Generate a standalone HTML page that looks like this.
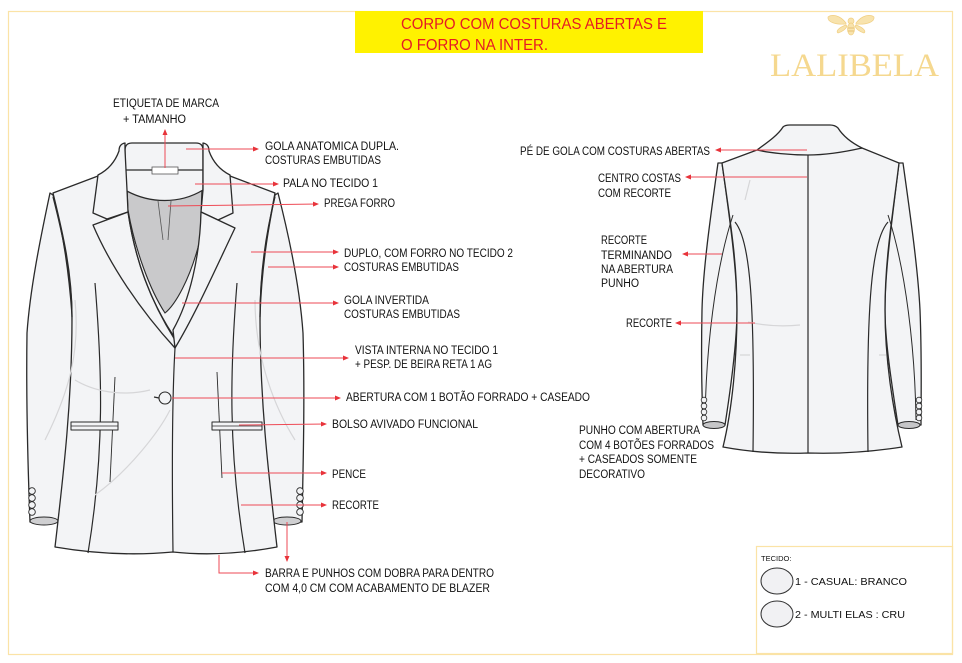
<!DOCTYPE html>
<html><head><meta charset="utf-8"><style>
html,body{margin:0;padding:0;background:#fff;}
svg{display:block;}
text{font-family:"Liberation Sans Narrow","Liberation Sans",sans-serif;font-size:11.5px;fill:#111;}
.r{stroke:#ee4a55;stroke-width:1;fill:none;}
.o{fill:#f3f4f6;stroke:#2a2a2a;stroke-width:1.3;stroke-linejoin:round;}
.l{fill:none;stroke:#2a2a2a;stroke-width:1.2;}
.f{fill:none;stroke:#d6d6d8;stroke-width:1.2;}
</style></head><body>
<svg width="962" height="663" viewBox="0 0 962 663" xmlns="http://www.w3.org/2000/svg">
<defs><marker id="a" markerWidth="6" markerHeight="6" refX="5" refY="3" orient="auto" markerUnits="userSpaceOnUse"><path d="M0,0.5 L6,3 L0,5.5z" fill="#e8333a"/></marker></defs>
<rect x="8.5" y="11.5" width="944" height="643" fill="none" stroke="#fbe3a6" stroke-width="1.2"/>
<rect x="355" y="11" width="348" height="42" fill="#fff200"/>
<text x="401" y="29" style="font-size:16px;fill:#e51b24" textLength="266" lengthAdjust="spacingAndGlyphs">CORPO COM COSTURAS ABERTAS E</text>
<text x="401" y="50" style="font-size:16px;fill:#e51b24" textLength="147" lengthAdjust="spacingAndGlyphs">O FORRO NA INTER.</text>
<g fill="#f8e3ad" stroke="#f0cf83" stroke-width="0.7">
<path d="M846,23 C840,15 832,14 828,17 C827,22 836,25 846,24 Z"/>
<path d="M856,23 C862,15 870,14 874,17 C875,22 866,25 856,24 Z"/>
<path d="M846,25 C840,27 835,31 838,33 C842,32 846,29 847,26 Z"/>
<path d="M856,25 C862,27 867,31 864,33 C860,32 856,29 855,26 Z"/>
<ellipse cx="851" cy="21" rx="3" ry="3"/>
<ellipse cx="851" cy="29" rx="3.5" ry="6"/>
<path d="M848,28 L854,28 M848,31 L854,31" stroke="#e0b860"/>
</g>
<text x="770" y="76" style="font-family:'Liberation Serif',serif;font-size:33px;fill:#f5d88f" textLength="169" lengthAdjust="spacingAndGlyphs">LALIBELA</text>
<rect x="756.5" y="546.5" width="196" height="107" fill="none" stroke="#fbe3a6" stroke-width="1.2"/>
<text x="761" y="561" style="font-family:'Liberation Sans',sans-serif;font-size:7.5px">TECIDO:</text>
<ellipse cx="777" cy="581" rx="16" ry="13" fill="#f1f1f3" stroke="#333" stroke-width="1"/>
<ellipse cx="777" cy="614" rx="16" ry="13" fill="#f1f1f3" stroke="#333" stroke-width="1"/>
<text x="795" y="585" style="font-family:'Liberation Sans',sans-serif;font-size:10.5px" textLength="112" lengthAdjust="spacingAndGlyphs">1 - CASUAL: BRANCO</text>
<text x="795" y="618" style="font-family:'Liberation Sans',sans-serif;font-size:10.5px" textLength="110" lengthAdjust="spacingAndGlyphs">2 - MULTI ELAS : CRU</text>

<path class="o" d="M50,193 C40,240 30,290 27,333 C26,400 28,470 30,522 L58,522 C66,460 74,380 72,315 C68,260 60,220 53,195 Z"/>
<path class="o" d="M278,193 C290,240 300,290 303,333 C305,400 303,470 302,522 L273,522 C265,460 258,380 260,315 C262,260 270,220 275,195 Z"/>
<ellipse cx="44" cy="521" rx="14" ry="4" fill="#cfcfd1" stroke="#2a2a2a" stroke-width="1"/>
<ellipse cx="287" cy="521" rx="14" ry="4" fill="#cfcfd1" stroke="#2a2a2a" stroke-width="1"/>
<path class="o" d="M98,176 L53,193 C62,230 72,270 72,317 C72,400 64,470 55,547 C90,553 130,556 173,552 C210,556 245,553 277,547 C268,470 260,400 260,317 C260,270 268,230 275,193 L230,176 Z"/>
<path d="M127,188 C150,204 180,204 202,188 L200,240 C190,280 175,305 165,313 C150,290 135,250 128,210 Z" fill="#c9c9cb" stroke="#2a2a2a" stroke-width="1.1"/>
<path class="l" d="M158,201 L163,240 M171,201 L168,240" style="stroke:#555;stroke-width:0.8"/>
<path class="o" d="M125,190 L125,150 Q125,143 132,143 L196,143 Q203,143 203,150 L203,190 C180,204 150,204 125,190 Z"/>
<line class="l" x1="125" y1="170" x2="203" y2="170"/>
<rect x="152" y="167" width="26" height="7" fill="#fff" stroke="#555" stroke-width="0.8"/>
<path class="o" d="M125,143 Q119,144 119,151 C115,162 108,170 98,175 L93,213 L107,219 L128,212 L127,190 L125,150 Z"/>
<path class="o" d="M203,143 Q209,144 209,151 C213,162 220,170 230,175 L233,213 L218,220 L201,212 L203,190 L203,150 Z"/>
<path class="o" d="M128,212 L93,225 C110,265 140,310 175,348 L175,340 C150,300 135,260 128,212 Z"/>
<path class="o" d="M201,212 L235,228 C215,270 195,315 175,348 L173,330 C190,300 200,255 201,212 Z"/>
<path class="l" d="M128,212 C135,260 150,300 173,335"/>
<path class="l" d="M175,348 C172,400 172,480 173,552"/>
<path class="l" d="M95,283 C102,370 105,450 88,553"/>
<path class="l" d="M237,283 C230,370 228,450 245,553"/>
<path class="l" d="M115,377 L110,482" style="stroke-width:0.9"/>
<path class="l" d="M217,372 L222,478" style="stroke-width:0.9"/>
<path class="l" d="M53,197 C64,240 72,280 72,317"/>
<path class="l" d="M275,197 C264,240 260,280 260,317"/>
<path class="f" d="M75,300 C80,350 70,390 45,440 M255,300 C255,350 270,400 295,440 M75,380 C100,395 130,395 150,390 M95,495 C130,470 160,430 170,410"/>
<rect x="71" y="422" width="47" height="8" class="o" style="stroke-width:1"/><line x1="71" y1="426" x2="118" y2="426" class="l" style="stroke-width:0.8"/>
<rect x="212" y="422" width="50" height="8" class="o" style="stroke-width:1"/><line x1="212" y1="426" x2="262" y2="426" class="l" style="stroke-width:0.8"/>
<circle cx="165" cy="398" r="6" class="o" style="stroke-width:1.1"/><path d="M159,398 L154,397" class="l"/>
<g class="o" style="stroke-width:0.9"><circle cx="32" cy="491" r="3.3"/><circle cx="32" cy="498" r="3.3"/><circle cx="32" cy="505" r="3.3"/><circle cx="32" cy="512" r="3.3"/>
<circle cx="300" cy="491" r="3.3"/><circle cx="300" cy="498" r="3.3"/><circle cx="300" cy="505" r="3.3"/><circle cx="300" cy="512" r="3.3"/></g>

<path class="o" d="M718,163 C710,220 703,270 702,310 C701,360 702,400 703,425 L725,425 C732,380 737,340 737,310 C737,270 730,220 722,163 Z"/>
<path class="o" d="M903,163 C911,220 918,270 920,310 C922,360 921,400 921,425 L898,425 C891,380 885,340 885,310 C885,270 892,220 899,163 Z"/>
<ellipse cx="714" cy="425" rx="11" ry="3.5" fill="#c6c6c8" stroke="#2a2a2a" stroke-width="1"/>
<ellipse cx="909" cy="425" rx="11" ry="3.5" fill="#c6c6c8" stroke="#2a2a2a" stroke-width="1"/>
<path class="o" d="M757,150 L722,163 C730,220 737,260 737,310 C737,360 732,410 723,447 C750,452 780,454 808,453 C840,454 870,452 902,447 C893,410 885,360 885,310 C885,260 892,220 899,163 L862,148 Z"/>
<path class="o" d="M757,150 C768,142 778,135 783,127 Q785,125 790,125 L830,125 Q835,125 838,128 C843,136 852,143 862,148 C840,153 820,155 808,155 C790,155 770,153 757,150 Z"/>
<path class="l" d="M808,155 L808,453"/>
<path class="l" d="M735,222 C750,240 755,300 753,452"/>
<path class="l" d="M888,222 C872,240 866,300 868,452"/>
<path class="l" d="M733,215 C715,270 706,350 705,420" style="stroke-width:1"/>
<path class="l" d="M888,215 C906,270 915,350 916,420" style="stroke-width:1"/>
<path class="f" d="M748,322 C770,327 790,326 800,325 M740,355 L750,355 M879,355 L886,355 M750,180 L745,200"/>
<g class="o" style="stroke-width:0.8"><circle cx="704" cy="400" r="2.8"/><circle cx="704" cy="406" r="2.8"/><circle cx="704" cy="412" r="2.8"/><circle cx="704" cy="418" r="2.8"/>
<circle cx="919" cy="400" r="2.8"/><circle cx="919" cy="406" r="2.8"/><circle cx="919" cy="412" r="2.8"/><circle cx="919" cy="418" r="2.8"/></g>

<g class="r" marker-end="url(#a)">
<line x1="165" y1="168" x2="165" y2="130"/>
<line x1="186" y1="149" x2="258" y2="149"/>
<line x1="195" y1="184" x2="278" y2="184"/>
<line x1="168" y1="206" x2="318" y2="204"/>
<line x1="251" y1="252" x2="338" y2="252"/>
<line x1="268" y1="267" x2="338" y2="267"/>
<line x1="182" y1="303" x2="338" y2="303"/>
<line x1="175" y1="358" x2="348" y2="358"/>
<line x1="172" y1="398" x2="340" y2="398"/>
<line x1="239" y1="425" x2="326" y2="424"/>
<line x1="222" y1="473" x2="326" y2="473"/>
<line x1="241" y1="505" x2="326" y2="505"/>
<polyline points="219,555 219,573 258,573"/>
<line x1="287" y1="522" x2="287" y2="561"/>
<line x1="807" y1="150" x2="716" y2="150"/>
<line x1="807" y1="177" x2="686" y2="177"/>
<line x1="722" y1="254" x2="683" y2="254"/>
<line x1="755" y1="323" x2="676" y2="323"/>
</g>

<text x="113" y="107" textLength="106" lengthAdjust="spacingAndGlyphs">ETIQUETA DE MARCA</text>
<text x="123" y="123" textLength="63" lengthAdjust="spacingAndGlyphs">+ TAMANHO</text>
<text x="265" y="150" textLength="134" lengthAdjust="spacingAndGlyphs">GOLA ANATOMICA DUPLA.</text>
<text x="265" y="164" textLength="116" lengthAdjust="spacingAndGlyphs">COSTURAS EMBUTIDAS</text>
<text x="283" y="187" textLength="95" lengthAdjust="spacingAndGlyphs">PALA NO  TECIDO 1</text>
<text x="324" y="207" textLength="71" lengthAdjust="spacingAndGlyphs">PREGA FORRO</text>
<text x="344" y="257" textLength="169" lengthAdjust="spacingAndGlyphs">DUPLO, COM FORRO NO TECIDO 2</text>
<text x="344" y="271" textLength="115" lengthAdjust="spacingAndGlyphs">COSTURAS EMBUTIDAS</text>
<text x="344" y="304" textLength="85" lengthAdjust="spacingAndGlyphs">GOLA INVERTIDA</text>
<text x="344" y="318" textLength="116" lengthAdjust="spacingAndGlyphs">COSTURAS EMBUTIDAS</text>
<text x="355" y="354" textLength="143" lengthAdjust="spacingAndGlyphs">VISTA INTERNA NO  TECIDO 1</text>
<text x="355" y="368" textLength="137" lengthAdjust="spacingAndGlyphs">+ PESP. DE BEIRA RETA 1 AG</text>
<text x="346" y="401" textLength="244" lengthAdjust="spacingAndGlyphs">ABERTURA COM 1 BOTÃO FORRADO + CASEADO</text>
<text x="332" y="428" textLength="146" lengthAdjust="spacingAndGlyphs">BOLSO AVIVADO FUNCIONAL</text>
<text x="332" y="478" textLength="34" lengthAdjust="spacingAndGlyphs">PENCE</text>
<text x="332" y="509" textLength="47" lengthAdjust="spacingAndGlyphs">RECORTE</text>
<text x="265" y="577" textLength="229" lengthAdjust="spacingAndGlyphs">BARRA E PUNHOS COM DOBRA PARA DENTRO</text>
<text x="265" y="592" textLength="225" lengthAdjust="spacingAndGlyphs">COM  4,0 CM  COM ACABAMENTO DE BLAZER</text>
<text x="520" y="155" textLength="190" lengthAdjust="spacingAndGlyphs">PÉ DE GOLA COM COSTURAS ABERTAS</text>
<text x="598" y="182" textLength="83" lengthAdjust="spacingAndGlyphs">CENTRO COSTAS</text>
<text x="598" y="197" textLength="73" lengthAdjust="spacingAndGlyphs">COM RECORTE</text>
<text x="601" y="244" textLength="46" lengthAdjust="spacingAndGlyphs">RECORTE</text>
<text x="601" y="259" textLength="71" lengthAdjust="spacingAndGlyphs">TERMINANDO</text>
<text x="601" y="273" textLength="72" lengthAdjust="spacingAndGlyphs">NA ABERTURA</text>
<text x="601" y="287" textLength="38" lengthAdjust="spacingAndGlyphs">PUNHO</text>
<text x="626" y="327" textLength="46" lengthAdjust="spacingAndGlyphs">RECORTE</text>
<text x="579" y="434" textLength="121" lengthAdjust="spacingAndGlyphs">PUNHO COM ABERTURA</text>
<text x="579" y="449" textLength="135" lengthAdjust="spacingAndGlyphs">COM 4 BOTÕES FORRADOS</text>
<text x="579" y="463" textLength="118" lengthAdjust="spacingAndGlyphs">+ CASEADOS SOMENTE</text>
<text x="579" y="478" textLength="66" lengthAdjust="spacingAndGlyphs">DECORATIVO</text>
</svg>
</body></html>
